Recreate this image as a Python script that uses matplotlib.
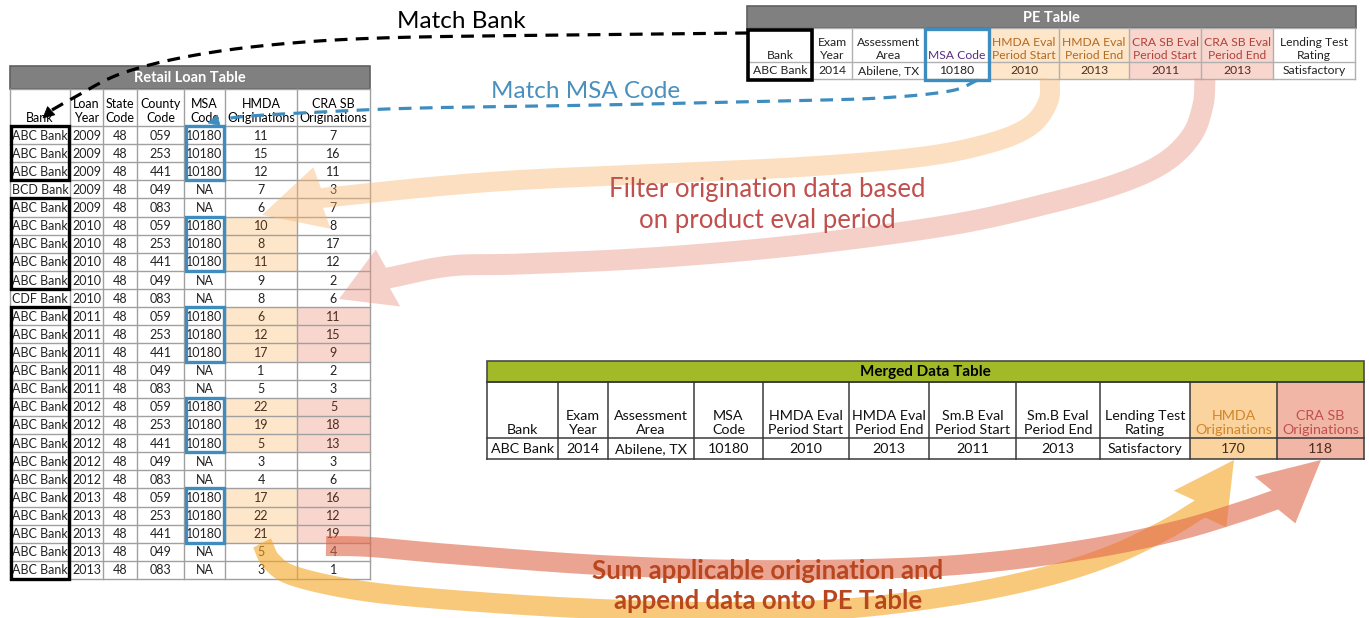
import numpy as np
import matplotlib
matplotlib.use("Agg")
import matplotlib.pyplot as plt
from matplotlib.patches import Rectangle, Polygon

plt.rcParams['font.family'] = ['Lato', 'DejaVu Sans']

# ---------------- data ----------------
retail_title = "Retail Loan Table"
retail_headers = ["Bank", "Loan\nYear", "State\nCode", "County\nCode", "MSA\nCode",
                  "HMDA\nOriginations", "CRA SB\nOriginations"]
banks = ["ABC Bank"] * 3 + ["BCD Bank"] + ["ABC Bank"] * 5 + ["CDF Bank"] + ["ABC Bank"] * 15
loan_years = [2009] * 5 + [2010] * 5 + [2011] * 5 + [2012] * 5 + [2013] * 5
state_codes = ["48"] * 25
county_codes = ["059", "253", "441", "049", "083"] * 5
msa_codes = ["10180", "10180", "10180", "NA", "NA"] * 5
hmda_orig = [11, 15, 12, 7, 6, 10, 8, 11, 9, 8, 6, 12, 17, 1, 5, 22, 19, 5, 3, 4, 17, 22, 21, 5, 3]
cra_orig = [7, 16, 11, 3, 7, 8, 17, 12, 2, 6, 11, 15, 9, 2, 3, 5, 18, 13, 3, 6, 16, 12, 19, 4, 1]

pe_title = "PE Table"
pe_headers = ["Bank", "Exam\nYear", "Assessment\nArea", "MSA Code", "HMDA Eval\nPeriod Start",
              "HMDA Eval\nPeriod End", "CRA SB Eval\nPeriod Start", "CRA SB Eval\nPeriod End",
              "Lending Test\nRating"]
pe_bank = "ABC Bank"
pe_exam_year = 2014
pe_area = "Abilene, TX"
pe_msa = "10180"
hmda_start, hmda_end = 2010, 2013
cra_start, cra_end = 2011, 2013
pe_rating = "Satisfactory"

merged_title = "Merged Data Table"
merged_headers = ["Bank", "Exam\nYear", "Assessment\nArea", "MSA\nCode", "HMDA Eval\nPeriod Start",
                  "HMDA Eval\nPeriod End", "Sm.B Eval\nPeriod Start", "Sm.B Eval\nPeriod End",
                  "Lending Test\nRating", "HMDA\nOriginations", "CRA SB\nOriginations"]

label_match_bank = "Match Bank"
label_match_msa = "Match MSA Code"
label_filter = "Filter origination data based\non product eval period"
label_sum = "Sum applicable origination and\nappend data onto PE Table"

# derived selections
n_rows = len(banks)
match = [banks[i] == pe_bank and msa_codes[i] == pe_msa for i in range(n_rows)]
hmda_sel = [match[i] and hmda_start <= loan_years[i] <= hmda_end for i in range(n_rows)]
cra_sel = [match[i] and cra_start <= loan_years[i] <= cra_end for i in range(n_rows)]
hmda_total = sum(v for v, s in zip(hmda_orig, hmda_sel) if s)
cra_total = sum(v for v, s in zip(cra_orig, cra_sel) if s)

pe_values = [pe_bank, str(pe_exam_year), pe_area, pe_msa, str(hmda_start), str(hmda_end),
             str(cra_start), str(cra_end), pe_rating]
merged_values = pe_values + [str(hmda_total), str(cra_total)]

# ---------------- figure ----------------
W, H = 1369, 618
fig = plt.figure(figsize=(W / 100, H / 100), dpi=100)
ax = fig.add_axes([0, 0, 1, 1])
ax.set_xlim(0, W)
ax.set_ylim(H, 0)
ax.axis('off')

FS = 9.0
FS_PE = 8.7
ORANGE_FILL = '#FDE6CA'
PINK_FILL = '#F8D5CD'


def runs(flags):
    out, start = [], None
    for i, f in enumerate(list(flags) + [False]):
        if f and start is None:
            start = i
        if not f and start is not None:
            out.append((start, i - 1))
            start = None
    return out


def title_bar(x0, x1, y0, y1, text, fc, tc, ec, fs=10.5):
    ax.add_patch(Rectangle((x0, y0), x1 - x0, y1 - y0, fc=fc, ec=ec, lw=1.2, zorder=2))
    ax.text((x0 + x1) / 2, (y0 + y1) / 2 + 0.5, text, ha='center', va='center',
            fontsize=fs, fontweight='bold', color=tc, zorder=3)


# ---------------- Retail loan table ----------------
rx = [10, 70, 103, 137, 184, 225, 297, 370]
r_top_hdr, r_top_rows, rh = 89, 126, 18.12
title_bar(10, 370, 66, 89, retail_title, '#808080', 'white', '#606060')
row_y = [r_top_rows + i * rh for i in range(n_rows + 1)]
ax.add_patch(Rectangle((rx[0], r_top_hdr), rx[-1] - rx[0], row_y[-1] - r_top_hdr,
                       fc='white', ec='none', zorder=1))
for i in range(n_rows):
    if hmda_sel[i]:
        ax.add_patch(Rectangle((rx[5], row_y[i]), rx[6] - rx[5], rh, fc=ORANGE_FILL, ec='none', zorder=1.5))
    if cra_sel[i]:
        ax.add_patch(Rectangle((rx[6], row_y[i]), rx[7] - rx[6], rh, fc=PINK_FILL, ec='none', zorder=1.5))
for x in rx:
    ax.plot([x, x], [r_top_hdr, row_y[-1]], color='#A0A0A0', lw=1, zorder=2)
for y in [r_top_hdr] + row_y:
    ax.plot([rx[0], rx[-1]], [y, y], color='#A0A0A0', lw=1, zorder=2)
for j, h in enumerate(retail_headers):
    ax.text((rx[j] + rx[j + 1]) / 2, r_top_rows - 1.5, h, ha='center', va='bottom',
            fontsize=FS, linespacing=1.2, zorder=3)
for i in range(n_rows):
    cy = row_y[i] + rh / 2 + 0.5
    vals = [banks[i], str(loan_years[i]), state_codes[i], county_codes[i], msa_codes[i],
            str(hmda_orig[i]), str(cra_orig[i])]
    for j, v in enumerate(vals):
        col = '#222222'
        if (j == 5 and hmda_sel[i]) or (j == 6 and cra_sel[i]):
            col = '#4A2E1E'
        if j == 0:
            ax.text(rx[0] + 2, cy, v, ha='left', va='center', fontsize=FS, color=col, zorder=3)
        else:
            ax.text((rx[j] + rx[j + 1]) / 2, cy, v, ha='center', va='center', fontsize=FS,
                    color=col, zorder=3)
# black boxes around matching bank runs
for a, b in runs([bk == pe_bank for bk in banks]):
    ax.add_patch(Rectangle((rx[0] + 1, row_y[a]), rx[1] - rx[0] - 2, row_y[b + 1] - row_y[a],
                           fc='none', ec='black', lw=2.4, zorder=4))
# blue boxes around matching MSA runs
for a, b in runs([m == pe_msa for m in msa_codes]):
    ax.add_patch(Rectangle((rx[4] + 1.5, row_y[a]), rx[5] - rx[4] - 3, row_y[b + 1] - row_y[a],
                           fc='none', ec='#3F8DBF', lw=2.4, zorder=4))

# ---------------- PE table ----------------
px = [748, 812, 852, 925, 989, 1059, 1129, 1201, 1273, 1355]
p_hdr0, p_row0, p_row1 = 28, 62, 79
title_bar(747, 1356, 6, 28, pe_title, '#808080', 'white', '#606060')
ax.add_patch(Rectangle((px[0], p_hdr0), px[-1] - px[0], p_row1 - p_hdr0, fc='white', ec='none', zorder=1))
pe_fill = [None, None, None, None, ORANGE_FILL, ORANGE_FILL, PINK_FILL, PINK_FILL, None]
pe_hcol = ['#222222', '#222222', '#222222', '#5B2C83', '#B36A1F', '#B36A1F', '#B0433A', '#B0433A', '#222222']
for j in range(len(px) - 1):
    if pe_fill[j]:
        ax.add_patch(Rectangle((px[j], p_hdr0), px[j + 1] - px[j], p_row1 - p_hdr0, fc=pe_fill[j],
                               ec='none', zorder=1.5))
for x in px:
    ax.plot([x, x], [p_hdr0, p_row1], color='#B0B0B0', lw=1, zorder=2)
for y in [p_hdr0, p_row0, p_row1]:
    ax.plot([px[0], px[-1]], [y, y], color='#B0B0B0', lw=1, zorder=2)
for j, h in enumerate(pe_headers):
    ax.text((px[j] + px[j + 1]) / 2, p_row0 - 1, h, ha='center', va='bottom', fontsize=FS_PE,
            linespacing=1.2, color=pe_hcol[j], zorder=3)
    ax.text((px[j] + px[j + 1]) / 2, (p_row0 + p_row1) / 2 + 0.5, pe_values[j], ha='center',
            va='center', fontsize=FS_PE, color='#4A2E1E' if pe_fill[j] else '#222222', zorder=3)
ax.add_patch(Rectangle((px[0], p_hdr0 + 2), px[1] - px[0], p_row1 - p_hdr0 - 1, fc='none', ec='black',
                       lw=2.6, zorder=4))
ax.add_patch(Rectangle((px[3], p_hdr0 + 1), px[4] - px[3], p_row1 - p_hdr0, fc='none', ec='#3F8DBF',
                       lw=2.4, zorder=4))

# ---------------- Merged table ----------------
mx = [487, 558, 608, 694, 763, 849, 929, 1016, 1100, 1190, 1277, 1364]
m_hdr0, m_row0, m_row1 = 382, 438, 459
title_bar(487, 1364, 361, 382, merged_title, '#A2B928', 'black', '#4A4A4A', fs=11)
ax.add_patch(Rectangle((mx[0], m_hdr0), mx[-1] - mx[0], m_row1 - m_hdr0, fc='white', ec='none', zorder=1))
m_fill = [None] * 9 + ['#FAD39E', '#F2B6A6']
m_hcol = ['#111111'] * 9 + ['#D0862A', '#C0504D']
for j in range(len(mx) - 1):
    if m_fill[j]:
        ax.add_patch(Rectangle((mx[j], m_hdr0), mx[j + 1] - mx[j], m_row1 - m_hdr0, fc=m_fill[j],
                               ec='none', zorder=1.5))
for x in mx:
    ax.plot([x, x], [m_hdr0, m_row1], color='#3A3A3A', lw=1.1, zorder=2)
for y in [m_hdr0, m_row0, m_row1]:
    ax.plot([mx[0], mx[-1]], [y, y], color='#3A3A3A', lw=1.1, zorder=2)
for j, h in enumerate(merged_headers):
    ax.text((mx[j] + mx[j + 1]) / 2, m_row0 - 2, h, ha='center', va='bottom', fontsize=10.3,
            linespacing=1.25, color=m_hcol[j], zorder=3)
    ax.text((mx[j] + mx[j + 1]) / 2, (m_row0 + m_row1) / 2 + 0.5, merged_values[j], ha='center',
            va='center', fontsize=10.3, color='#4A2E1E' if m_fill[j] else '#111111', zorder=3)


# ---------------- curves ----------------
def catmull(points, n=30):
    P = np.asarray(points, float)
    P = np.vstack([P[0] * 2 - P[1], P, P[-1] * 2 - P[-2]])
    out = []
    t = np.linspace(0, 1, n, endpoint=False)[:, None]
    for i in range(1, len(P) - 2):
        p0, p1, p2, p3 = P[i - 1], P[i], P[i + 1], P[i + 2]
        seg = 0.5 * ((2 * p1) + (-p0 + p2) * t + (2 * p0 - 5 * p1 + 4 * p2 - p3) * t ** 2
                     + (-p0 + 3 * p1 - 3 * p2 + p3) * t ** 3)
        out.append(seg)
    out.append(P[-2][None, :])
    return np.vstack(out)


def band_arrow(points, tip, width, half, color, alpha, z=5):
    c = catmull(points)
    d = np.gradient(c, axis=0)
    d /= np.linalg.norm(d, axis=1)[:, None]
    nrm = np.stack([-d[:, 1], d[:, 0]], 1)
    L = c + nrm * width / 2
    R = c - nrm * width / 2
    base = c[-1]
    tip = np.asarray(tip, float)
    u = (tip - base) / np.linalg.norm(tip - base)
    p = np.array([-u[1], u[0]])
    if np.dot(p, nrm[-1]) < 0:
        p = -p
    poly = np.vstack([L, base + p * half, tip, base - p * half, R[::-1]])
    ax.add_patch(Polygon(poly, closed=True, fc=color, alpha=alpha, ec='none', zorder=z))


def dashed_arrow(points, tip, color, lw, z=6):
    c = catmull(points)
    ax.plot(c[:, 0], c[:, 1], color=color, lw=lw, linestyle=(0, (4, 2.6)), zorder=z,
            solid_capstyle='butt', dash_capstyle='butt')
    base = c[-1]
    tip = np.asarray(tip, float)
    u = (tip - base) / np.linalg.norm(tip - base)
    p = np.array([-u[1], u[0]])
    hb = tip - u * 11
    tri = np.vstack([tip, hb + p * 5.5, hb - p * 5.5])
    ax.add_patch(Polygon(tri, closed=True, fc=color, ec=color, lw=0.5, zorder=z))


# upper filter arrows
band_arrow([(1050, 79), (1048, 102), (1030, 126), (990, 143), (920, 157), (800, 167), (650, 174),
            (520, 180), (430, 187), (322, 198)], (262, 215), 20, 32, '#F9B56A', 0.42)
band_arrow([(1205, 79), (1203, 105), (1192, 135), (1165, 162), (1120, 183), (1050, 203), (950, 225),
            (800, 245), (650, 258), (520, 264), (450, 266), (388, 278)], (339, 299), 21, 31,
           '#E8917E', 0.42)
# lower sum arrows
band_arrow([(262, 543), (272, 562), (297, 577), (370, 592), (480, 602), (600, 609), (720, 612),
            (840, 609), (950, 596), (1040, 578), (1110, 556), (1165, 530), (1200, 509)],
           (1234, 460), 20, 32, '#F5A623', 0.6)
band_arrow([(326, 546), (370, 547), (450, 554), (600, 565), (750, 570), (900, 568), (1000, 561),
            (1100, 547), (1180, 530), (1240, 512), (1275, 500)], (1321, 460), 20, 31,
           '#E0684A', 0.6)

# dashed match lines
dashed_arrow([(748, 33), (560, 35), (380, 38), (270, 45), (185, 57), (120, 74), (75, 97), (52, 110)],
             (43, 118), 'black', 2.3)
dashed_arrow([(978, 80), (950, 91), (880, 98), (780, 101), (600, 105), (420, 108), (320, 112),
              (250, 116), (223, 119)], (208, 123), '#3F8DBF', 2.3)

# ---------------- labels ----------------
ax.text(461, 22, label_match_bank, ha='center', va='center', fontsize=17.5, color='black', zorder=7)
ax.text(586, 92, label_match_msa, ha='center', va='center', fontsize=17.5, color='#4A90BE', zorder=7)
ax.text(767, 205, label_filter, ha='center', va='center', fontsize=18.5, color='#C0504D',
        linespacing=1.3, zorder=7)
ax.text(768, 586, label_sum, ha='center', va='center', fontsize=18.5, color='#B8461F',
        fontweight='bold', linespacing=1.3, zorder=7)

fig.savefig('out.png', dpi=100)
